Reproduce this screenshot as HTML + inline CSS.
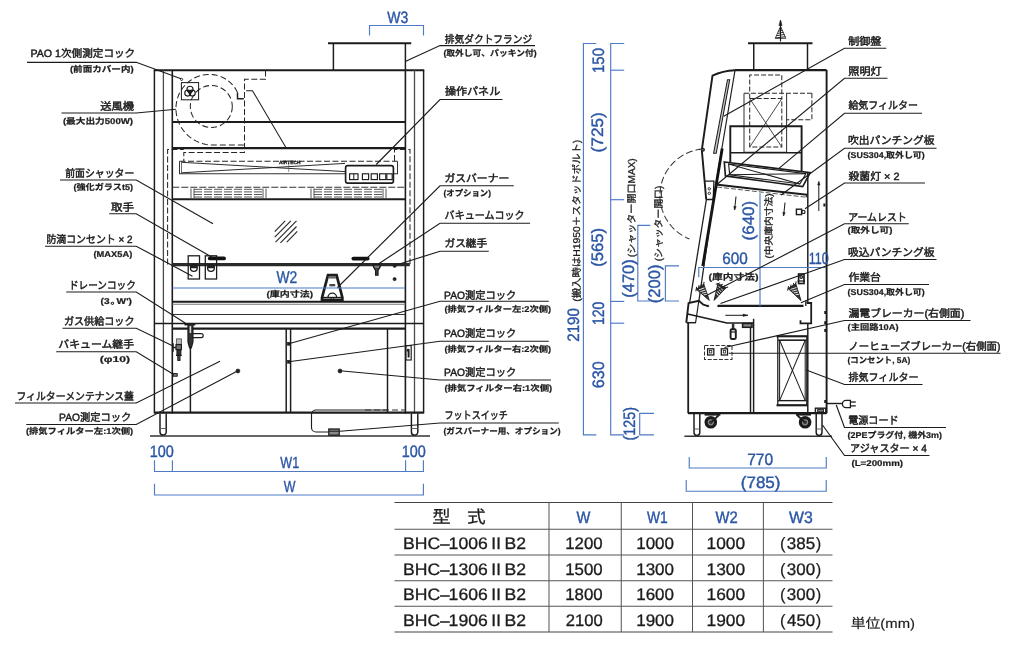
<!DOCTYPE html>
<html lang="ja"><head><meta charset="utf-8"><title>BHC-IIB2 外形図</title>
<style>
html,body{margin:0;padding:0;background:#fff;}
body{width:1024px;height:653px;overflow:hidden;font-family:"Liberation Sans","Noto Sans CJK JP",sans-serif;}
svg{display:block;will-change:opacity;}
svg text{font-family:"Liberation Sans","Noto Sans CJK JP",sans-serif;white-space:pre;text-rendering:geometricPrecision;}
</style></head><body>
<svg width="1024" height="653" viewBox="0 0 1024 653" font-family="Liberation Sans, Noto Sans CJK JP, sans-serif">
<path d="M328 43.25 L411.25 43.25" stroke="#1c1c1c" stroke-width="1.79" fill="none"/>
<path d="M333.4 43.25 L333.4 70" stroke="#1c1c1c" stroke-width="1.47" fill="none"/>
<path d="M405.4 43.25 L405.4 70" stroke="#1c1c1c" stroke-width="1.47" fill="none"/>
<path d="M153.8 70.3 L424.2 70.3" stroke="#1c1c1c" stroke-width="1.92" fill="none"/>
<path d="M154.4 70 L154.4 413.5" stroke="#1c1c1c" stroke-width="1.47" fill="none"/>
<path d="M163.4 70 L163.4 413.5" stroke="#4a4a4a" stroke-width="1.28" fill="none"/>
<path d="M172.3 70 L172.3 413.5" stroke="#1c1c1c" stroke-width="1.6" fill="none"/>
<path d="M423.6 70 L423.6 413.5" stroke="#1c1c1c" stroke-width="1.47" fill="none"/>
<path d="M414.5 70 L414.5 413.5" stroke="#4a4a4a" stroke-width="1.28" fill="none"/>
<path d="M405.4 70 L405.4 413.5" stroke="#1c1c1c" stroke-width="1.6" fill="none"/>
<path d="M172.3 122 L405.4 122" stroke="#1c1c1c" stroke-width="1.79" fill="none"/>
<path d="M172.3 148.2 L405.4 148.2" stroke="#1c1c1c" stroke-width="2.18" fill="none"/>
<path d="M172.3 187.2 L405.4 187.2" stroke="#333" stroke-width="1.02" fill="none" stroke-dasharray="7 2"/>
<path d="M172.3 199.3 L405.4 199.3" stroke="#1c1c1c" stroke-width="1.92" fill="none"/>
<path d="M172.3 264.7 L409.8 264.7" stroke="#2a2a2a" stroke-width="3.33" fill="none"/>
<path d="M172.3 301.8 L405.4 301.8" stroke="#1c1c1c" stroke-width="2.05" fill="none"/>
<path d="M172.3 304.2 L405.4 304.2" stroke="#777" stroke-width="1.15" fill="none"/>
<path d="M172.3 314.4 L405.4 314.4" stroke="#333" stroke-width="1.02" fill="none"/>
<path d="M154.4 323.4 L423.6 323.4" stroke="#1c1c1c" stroke-width="1.47" fill="none"/>
<path d="M172.3 328.6 L405.4 328.6" stroke="#1c1c1c" stroke-width="2.18" fill="none"/>
<path d="M154.4 412.6 L423.6 412.6" stroke="#1c1c1c" stroke-width="2.18" fill="none"/>
<path d="M150 436.1 L430 436.1" stroke="#333" stroke-width="1.47" fill="none"/>
<path d="M190.4 329 L190.4 412.5" stroke="#1c1c1c" stroke-width="1.47" fill="none"/>
<path d="M286.2 329 L286.2 412.5" stroke="#1c1c1c" stroke-width="1.47" fill="none"/>
<path d="M290.6 329 L290.6 412.5" stroke="#1c1c1c" stroke-width="1.47" fill="none"/>
<path d="M387.5 329 L387.5 412.5" stroke="#1c1c1c" stroke-width="1.47" fill="none"/>
<path d="M160 413.6V432 a3.1 3.1 0 0 0 6.2 0V413.6" stroke="#1c1c1c" stroke-width="1.47" fill="none"/>
<path d="M160 428.5 L166.2 428.5" stroke="#555" stroke-width="0.9" fill="none"/>
<path d="M411.4 413.6V432 a3.2 3.2 0 0 0 6.4 0V413.6" stroke="#1c1c1c" stroke-width="1.47" fill="none"/>
<path d="M411.4 428.5 L417.8 428.5" stroke="#555" stroke-width="0.9" fill="none"/>
<path d="M265.5 70.5 L265.5 79.3 L244.5 79.3 L244.5 152.6 L183.8 152.6 L183.8 161" stroke="#262626" stroke-width="1.02" fill="none" stroke-dasharray="6 2.5"/>
<path d="M167.6 264.5 L167.6 149.4 L183.8 149.4" stroke="#262626" stroke-width="1.02" fill="none" stroke-dasharray="6 2.5"/>
<path d="M394.5 161 L394.5 149.4 L410 149.4 L410 264.5" stroke="#262626" stroke-width="1.02" fill="none" stroke-dasharray="6 2.5"/>
<circle cx="211.3" cy="106.5" r="21" stroke="#262626" stroke-width="1.02" fill="none" stroke-dasharray="6 3"/>
<path d="M237.52 92.56 L236.6 90.67 L235.55 88.84 L234.36 87.08 L233.04 85.41 L231.6 83.82 L230.05 82.33 L228.38 80.95 L226.62 79.68 L224.76 78.54 L222.81 77.52 L220.79 76.64 L218.7 75.9 L216.56 75.31 L214.36 74.87 L212.14 74.59 L209.88 74.46 L207.62 74.49 L205.35 74.68 L203.08 75.04 L200.84 75.55 L198.64 76.23 L196.47 77.06 L194.36 78.05 L192.32 79.19 L190.35 80.48 L188.47 81.91 L186.69 83.47 L185.02 85.16 L183.46 86.98 L182.03 88.91 L180.73 90.95 L179.58 93.08 L178.57 95.29 L177.72 97.59 L177.03 99.94 L176.51 102.35 L176.15 104.8 L175.97 107.28 L175.97 109.78 L176.14 112.28 L176.49 114.77 L177.01 117.24 L177.72 119.68 L178.59 122.08 L179.64 124.41 L180.86 126.68 L182.23 128.86 L183.77 130.95 L185.45 132.93 L187.28 134.79 L189.24 136.53 L191.33 138.14 L193.53 139.59 L195.84 140.9 L198.25 142.04 L200.74 143.01 L203.3 143.81 L205.93 144.42 L208.6 144.86 L211.3 145.1 L244.5 145.1" stroke="#262626" stroke-width="1.02" fill="none" stroke-dasharray="6 3"/>
<path d="M237.5 92.5 L237.5 98.8 L243.8 98.8" stroke="#1c1c1c" stroke-width="1.47" fill="none"/>
<path d="M246.2 90.8 L252.5 90.8 L286.2 148" stroke="#1c1c1c" stroke-width="1.02" fill="none"/>
<rect x="181.4" y="82.6" width="17.2" height="17.2" stroke="#1c1c1c" stroke-width="1.02" fill="none"/>
<circle cx="190" cy="89.2" r="3" stroke="#1c1c1c" stroke-width="1.15" fill="none"/>
<circle cx="187.75" cy="93.1" r="3" stroke="#1c1c1c" stroke-width="1.15" fill="none"/>
<circle cx="192.25" cy="93.1" r="3" stroke="#1c1c1c" stroke-width="1.15" fill="none"/>
<circle cx="190" cy="91.8" r="1.6" stroke="#1c1c1c" stroke-width="1.02" fill="none"/>
<path d="M179.5 161.3 L397.5 161.3" stroke="#262626" stroke-width="1.02" fill="none" stroke-dasharray="6 2.5"/>
<path d="M179.5 161.3 L179.5 173.8 L397.5 173.8 L397.5 161.3" stroke="#333" stroke-width="1.02" fill="none"/>
<path d="M181.5 162.3 L345 171.6" stroke="#222" stroke-width="0.96" fill="none"/>
<path d="M181.5 172.8 L345 163.4" stroke="#222" stroke-width="0.96" fill="none"/>
<path d="M288.7 163 L288.7 172" stroke="#555" stroke-width="0.64" fill="none"/>
<path d="M181.5 161.3 L181.5 173.8" stroke="#444" stroke-width="0.77" fill="none"/>
<text x="279" y="164.3" font-size="4.6" font-weight="bold" fill="#111" stroke="#111" stroke-width="0.25" textLength="21.5" lengthAdjust="spacingAndGlyphs">AIRTECH</text>
<rect x="345.6" y="165.6" width="47.8" height="17.6" stroke="#1c1c1c" stroke-width="1.66" fill="#fff" rx="2.2"/>
<rect x="349.6" y="173.8" width="8.4" height="5.8" stroke="#1c1c1c" stroke-width="1.15" fill="none"/>
<path d="M353.8 173.8 L353.8 179.6" stroke="#1c1c1c" stroke-width="1.02" fill="none"/>
<rect x="362.4" y="173.8" width="6.2" height="5.8" stroke="#1c1c1c" stroke-width="1.15" fill="none"/>
<rect x="371.2" y="173.8" width="6.2" height="5.8" stroke="#1c1c1c" stroke-width="1.15" fill="none"/>
<rect x="379.6" y="173.8" width="6.2" height="5.8" stroke="#1c1c1c" stroke-width="1.15" fill="none"/>
<rect x="386.8" y="173.8" width="5.4" height="5.8" stroke="#1c1c1c" stroke-width="1.15" fill="none"/>
<path d="M194 189.3 L263 189.3" stroke="#444" stroke-width="0.9" fill="none" stroke-dasharray="8 2"/>
<path d="M194 191.9 L263 191.9" stroke="#444" stroke-width="0.9" fill="none" stroke-dasharray="8 2"/>
<path d="M194 194.5 L263 194.5" stroke="#444" stroke-width="0.9" fill="none" stroke-dasharray="8 2"/>
<path d="M194 197 L263 197" stroke="#444" stroke-width="0.9" fill="none" stroke-dasharray="8 2"/>
<path d="M191 188.5 L191 198" stroke="#444" stroke-width="0.9" fill="none"/>
<path d="M194 188.5 L194 198" stroke="#444" stroke-width="0.9" fill="none"/>
<path d="M266 188.5 L266 198" stroke="#444" stroke-width="0.9" fill="none"/>
<path d="M263 188.5 L263 198" stroke="#444" stroke-width="0.9" fill="none"/>
<path d="M314 189.3 L383 189.3" stroke="#444" stroke-width="0.9" fill="none" stroke-dasharray="8 2"/>
<path d="M314 191.9 L383 191.9" stroke="#444" stroke-width="0.9" fill="none" stroke-dasharray="8 2"/>
<path d="M314 194.5 L383 194.5" stroke="#444" stroke-width="0.9" fill="none" stroke-dasharray="8 2"/>
<path d="M314 197 L383 197" stroke="#444" stroke-width="0.9" fill="none" stroke-dasharray="8 2"/>
<path d="M311 188.5 L311 198" stroke="#444" stroke-width="0.9" fill="none"/>
<path d="M314 188.5 L314 198" stroke="#444" stroke-width="0.9" fill="none"/>
<path d="M386 188.5 L386 198" stroke="#444" stroke-width="0.9" fill="none"/>
<path d="M383 188.5 L383 198" stroke="#444" stroke-width="0.9" fill="none"/>
<path d="M274.72 231.58 L285.22 220.93" stroke="#2a2a2a" stroke-width="1.15" fill="none"/>
<path d="M274.76 237.22 L290.86 220.89" stroke="#2a2a2a" stroke-width="1.15" fill="none"/>
<path d="M275.5 242.15 L296.5 220.85" stroke="#2a2a2a" stroke-width="1.15" fill="none"/>
<path d="M280.44 242.82 L296.54 226.49" stroke="#2a2a2a" stroke-width="1.15" fill="none"/>
<path d="M286.78 242.07 L297.28 231.42" stroke="#2a2a2a" stroke-width="1.15" fill="none"/>
<path d="M209.8 258.4 L224 258.4" stroke="#111" stroke-width="3.84" fill="none" stroke-linecap="round"/>
<path d="M353.4 258.6 L367.6 258.6" stroke="#111" stroke-width="3.84" fill="none" stroke-linecap="round"/>
<rect x="188.2" y="255.8" width="11.3" height="23.2" stroke="#1c1c1c" stroke-width="1.28" fill="none"/>
<circle cx="193.85" cy="267.9" r="3.4" stroke="#1c1c1c" stroke-width="1.28" fill="none"/>
<path d="M190.45 267.9a3.4 3.4 0 0 1 6.8 0Z" stroke="#1c1c1c" stroke-width="0.64" fill="#222"/>
<rect x="205.3" y="255.8" width="11.3" height="23.2" stroke="#1c1c1c" stroke-width="1.28" fill="none"/>
<circle cx="210.95" cy="267.9" r="3.4" stroke="#1c1c1c" stroke-width="1.28" fill="none"/>
<path d="M207.55 267.9a3.4 3.4 0 0 1 6.8 0Z" stroke="#1c1c1c" stroke-width="0.64" fill="#222"/>
<path d="M328 275.2L336.6 275.2L342.4 297.6L342.4 300L322 300L322 297.6Z" stroke="#1c1c1c" stroke-width="2.69" fill="#fff"/>
<path d="M321.8 297.6 L342.6 297.6" stroke="#1c1c1c" stroke-width="1.54" fill="none"/>
<path d="M328.6 277.4 L336 277.4" stroke="#666" stroke-width="2.3" fill="none"/>
<path d="M329.4 285.2 L335.2 285.2" stroke="#444" stroke-width="2.3" fill="none"/>
<path d="M328 297.4a4.3 4.3 0 0 1 8.6 0" stroke="#1c1c1c" stroke-width="1.28" fill="none"/>
<circle cx="332.3" cy="298.6" r="1.2" stroke="#1c1c1c" stroke-width="0.9" fill="none"/>
<path d="M373.4 264.5L380.2 264.5L380.2 266.8L378 270.5L378 275.2L375.6 275.2L375.6 270.5L373.4 266.8Z" stroke="#1c1c1c" stroke-width="1.28" fill="#444"/>
<path d="M374.5 267 L379 267" stroke="#bbb" stroke-width="0.9" fill="none"/>
<circle cx="394.6" cy="265.9" r="1.5" stroke="#1c1c1c" stroke-width="0.64" fill="#222"/>
<circle cx="394.6" cy="279.1" r="1.6" stroke="#1c1c1c" stroke-width="0.64" fill="#222"/>
<path d="M396 265.4 L400 265" stroke="#333" stroke-width="1.54" fill="none"/>
<path d="M184.4 324.6 L195.4 324.6" stroke="#1c1c1c" stroke-width="1.66" fill="none"/>
<path d="M188 324.6V342L189.6 347.8L191.3 347.8L192.9 342V324.6" stroke="#1c1c1c" stroke-width="1.28" fill="#333"/>
<path d="M190.4 326 L190.4 333" stroke="#ddd" stroke-width="1.54" fill="none"/>
<path d="M193 333.6H201.2a2 2 0 0 1 0 4H193" stroke="#1c1c1c" stroke-width="1.15" fill="none"/>
<rect x="176.4" y="338.9" width="5" height="5.4" stroke="#555" stroke-width="0.9" fill="#bbb"/>
<path d="M173 343.2V351.8M173 347.5H176" stroke="#1c1c1c" stroke-width="1.54" fill="none"/>
<rect x="176" y="344.6" width="5.4" height="5" stroke="#1c1c1c" stroke-width="1.15" fill="#777"/>
<rect x="177" y="349.8" width="3.8" height="5.4" stroke="#1c1c1c" stroke-width="1.15" fill="#333"/>
<path d="M176 355.4 L181.6 355.4" stroke="#1c1c1c" stroke-width="1.28" fill="none"/>
<rect x="177.8" y="355.6" width="2.2" height="4.8" stroke="#1c1c1c" stroke-width="1.02" fill="#555"/>
<rect x="173" y="373.6" width="4.2" height="2.6" stroke="#1c1c1c" stroke-width="1.02" fill="#888"/>
<circle cx="237.9" cy="371" r="2" stroke="#1c1c1c" stroke-width="0.64" fill="#222"/>
<circle cx="340" cy="371" r="2" stroke="#1c1c1c" stroke-width="0.64" fill="#222"/>
<rect x="287.5" y="342.4" width="2.4" height="2.8" stroke="#1c1c1c" stroke-width="0.64" fill="#222"/>
<rect x="287.5" y="360.4" width="2.4" height="2.8" stroke="#1c1c1c" stroke-width="0.64" fill="#222"/>
<rect x="405.9" y="345.6" width="5.3" height="14.4" stroke="#1c1c1c" stroke-width="1.15" fill="none"/>
<path d="M408.6 349V357.5M407 351.2L408.6 349" stroke="#1c1c1c" stroke-width="1.92" fill="none"/>
<path d="M387 410H316a4.5 4.5 0 0 0 -4.5 4.5V427.5a4.5 4.5 0 0 0 4.5 4.5H328.7" stroke="#1c1c1c" stroke-width="1.15" fill="none"/>
<path d="M365 410 L406 410" stroke="#333" stroke-width="1.15" fill="none" stroke-dasharray="6 3"/>
<rect x="328.8" y="429" width="10.4" height="6.2" stroke="#1c1c1c" stroke-width="1.28" fill="#888"/>
<path d="M328.8 431.2 L339.2 431.2" stroke="#1c1c1c" stroke-width="1.02" fill="none"/>
<path d="M748 43.25 L812.5 43.25" stroke="#1c1c1c" stroke-width="1.79" fill="none"/>
<path d="M753.75 43.25 L753.75 70" stroke="#1c1c1c" stroke-width="1.47" fill="none"/>
<path d="M807.5 43.25 L807.5 70" stroke="#1c1c1c" stroke-width="1.47" fill="none"/>
<path d="M780.5 21 L780.5 41.5" stroke="#1c1c1c" stroke-width="1.15" fill="none"/>
<path d="M780.5 20L779 25.5H782Z" stroke="#1c1c1c" stroke-width="0.64" fill="#1c1c1c"/>
<path d="M779.1 29.1 L781.9 27.9" stroke="#1c1c1c" stroke-width="0.9" fill="none"/>
<path d="M778.2 31.3 L782.8 30.1" stroke="#1c1c1c" stroke-width="0.9" fill="none"/>
<path d="M777.3 33.5 L783.7 32.3" stroke="#1c1c1c" stroke-width="0.9" fill="none"/>
<path d="M776.4 35.7 L784.6 34.5" stroke="#1c1c1c" stroke-width="0.9" fill="none"/>
<path d="M775.5 37.9 L785.5 36.7" stroke="#1c1c1c" stroke-width="0.9" fill="none"/>
<path d="M780.5 26.5L775.2 38.4H785.8Z" stroke="#1c1c1c" stroke-width="0.77" fill="none"/>
<path d="M735 70.2 L826.6 70.2" stroke="#1c1c1c" stroke-width="2.18" fill="none"/>
<path d="M826.6 70 L826.6 413.3" stroke="#1c1c1c" stroke-width="1.92" fill="none"/>
<path d="M735 70.2Q722.5 70.8 712.5 75.6L701.8 150L704.6 181L706.2 199.5" stroke="#1c1c1c" stroke-width="1.92" fill="none"/>
<path d="M704.6 181.2 L713.9 181.2 L713.2 199.5 L706.2 199.5" stroke="#1c1c1c" stroke-width="1.28" fill="none"/>
<circle cx="709.3" cy="188.8" r="1.2" stroke="#1c1c1c" stroke-width="0.9" fill="none"/>
<circle cx="709.3" cy="193.3" r="1.2" stroke="#1c1c1c" stroke-width="0.9" fill="none"/>
<path d="M735 70.4 L715.8 184.5" stroke="#1c1c1c" stroke-width="1.15" fill="none"/>
<path d="M722.2 148.5 L702.8 266" stroke="#111" stroke-width="2.82" fill="none"/>
<path d="M727.5 79.7 L729.7 79.7 L716.2 153.3 L713.6 153.3Z" stroke="#1c1c1c" stroke-width="1.02" fill="#c8c8c8"/>
<circle cx="702.9" cy="149.7" r="1.4" stroke="#1c1c1c" stroke-width="1.28" fill="#999"/>
<path d="M706.4 199.5 L689.6 303" stroke="#1c1c1c" stroke-width="1.28" fill="none"/>
<path d="M713.4 199.5 L698.9 301" stroke="#1c1c1c" stroke-width="1.28" fill="none"/>
<path d="M702.4 148.99 L699.3 149.37 L696.23 149.96 L693.21 150.76 L690.25 151.75 L687.37 152.94 L684.57 154.32 L681.86 155.89 L679.27 157.63 L676.8 159.54 L674.47 161.61 L672.27 163.84 L670.24 166.2 L668.36 168.7 L666.65 171.31 L665.13 174.03 L663.78 176.85 L662.63 179.76 L661.68 182.73 L660.93 185.76 L660.38 188.83 L660.04 191.94 L659.9 195.06 L659.98 198.18 L660.26 201.29 L660.75 204.37 L661.45 207.42 L662.34 210.41 L663.44 213.33 L664.73 216.18 L666.2 218.93 L667.86 221.57 L669.69 224.11 L671.68 226.51 L673.83 228.77 L676.13 230.89 L678.56 232.85 L681.12 234.64 L683.79 236.25 L686.56 237.68 L689.43 238.93" stroke="#333" stroke-width="1.02" fill="none" stroke-dasharray="7 3"/>
<path d="M749.7 98.6 L749.7 75 L781.8 75 L781.8 98.6" stroke="#2a2a2a" stroke-width="1.02" fill="none" stroke-dasharray="5 2"/>
<rect x="749.7" y="98.6" width="32.1" height="48.4" stroke="#2a2a2a" stroke-width="1.02" fill="none" stroke-dasharray="5 2"/>
<path d="M749.7 98.6 L781.8 147" stroke="#333" stroke-width="0.9" fill="none"/>
<path d="M781.8 98.6 L749.7 147" stroke="#333" stroke-width="0.9" fill="none"/>
<path d="M744 93.3 L811.9 93.3" stroke="#2a2a2a" stroke-width="1.02" fill="none" stroke-dasharray="5 2"/>
<path d="M744 93.3 L744 152.3 L786.6 152.3 L786.6 93.3" stroke="#333" stroke-width="1.02" fill="none"/>
<path d="M811.9 93.3 L811.9 119.7 L786.6 119.7" stroke="#2a2a2a" stroke-width="1.02" fill="none" stroke-dasharray="5 2"/>
<path d="M730.3 162 L730.3 126.2 L801.6 126.2 L801.6 171.6" stroke="#1c1c1c" stroke-width="1.92" fill="none"/>
<path d="M730.3 152.7 L801.6 152.7" stroke="#1c1c1c" stroke-width="1.47" fill="none"/>
<path d="M724.3 162 L810.2 172.7 L802.7 186.6 L725.4 175.9Z" stroke="#1c1c1c" stroke-width="1.66" fill="none"/>
<path d="M728.6 164 L805.9 173.7 L799.9 184 L729.7 174.8Z" stroke="#1c1c1c" stroke-width="1.15" fill="none"/>
<path d="M728.6 164 L799.9 184" stroke="#1c1c1c" stroke-width="1.02" fill="none"/>
<path d="M729.7 174.8 L805.9 173.7" stroke="#1c1c1c" stroke-width="1.02" fill="none"/>
<path d="M715.8 184.5 L807.2 194.8" stroke="#1c1c1c" stroke-width="1.92" fill="none"/>
<path d="M717 187 L806 197.2" stroke="#444" stroke-width="0.9" fill="none" stroke-dasharray="5 2"/>
<path d="M806 197.2 L807.2 194.8" stroke="#1c1c1c" stroke-width="1.02" fill="none"/>
<path d="M807.8 172.7 L807.8 303" stroke="#1c1c1c" stroke-width="1.47" fill="none"/>
<path d="M807.8 323.4 L807.8 413.3" stroke="#1c1c1c" stroke-width="1.47" fill="none"/>
<path d="M736 196.5 L734.6 210" stroke="#1c1c1c" stroke-width="1.02" fill="none"/>
<path d="M734.6 210L733.68 206.29L736.26 206.55Z" stroke="#1c1c1c" stroke-width="0.38" fill="#1c1c1c"/>
<path d="M785 202.5 L783.6 216" stroke="#1c1c1c" stroke-width="1.02" fill="none"/>
<path d="M783.6 216L782.68 212.29L785.26 212.55Z" stroke="#1c1c1c" stroke-width="0.38" fill="#1c1c1c"/>
<path d="M818.8 211 L818.8 181.5" stroke="#1c1c1c" stroke-width="1.02" fill="none"/>
<path d="M818.8 181.5L820.1 185.1L817.5 185.1Z" stroke="#1c1c1c" stroke-width="0.38" fill="#1c1c1c"/>
<path d="M725.3 315.3 L748 315.3" stroke="#1c1c1c" stroke-width="1.02" fill="none"/>
<path d="M748 315.3L743 316.6L743 314Z" stroke="#1c1c1c" stroke-width="0.38" fill="#1c1c1c"/>
<rect x="796.4" y="209.2" width="5.2" height="5.4" stroke="#1c1c1c" stroke-width="1.41" fill="none"/>
<circle cx="803.4" cy="211.9" r="1.6" stroke="#1c1c1c" stroke-width="1.15" fill="none"/>
<path d="M824.4 203.5 L824.4 206.5" stroke="#1c1c1c" stroke-width="2.05" fill="none"/>
<path d="M718.3 305.9 L803.5 305.9" stroke="#1c1c1c" stroke-width="2.3" fill="none"/>
<circle cx="708" cy="306" r="0.9" stroke="#1c1c1c" stroke-width="0.51" fill="#1c1c1c"/>
<circle cx="718.4" cy="306" r="0.9" stroke="#1c1c1c" stroke-width="0.51" fill="#1c1c1c"/>
<path d="M686.3 322.7 L688.6 303 L698.8 300.8 L703.4 304.7 L708 306.2" stroke="#1c1c1c" stroke-width="1.92" fill="none"/>
<path d="M698.8 300.8 L695.6 322.7" stroke="#1c1c1c" stroke-width="1.15" fill="none"/>
<path d="M687.6 314 L726.9 323 L753.4 323" stroke="#1c1c1c" stroke-width="1.66" fill="none"/>
<path d="M686.3 322.7 L696 322.7" stroke="#1c1c1c" stroke-width="1.47" fill="none"/>
<path d="M806.6 303 L811.2 303 L811.2 323.4 L800.5 323.4 L800.5 320.3" stroke="#1c1c1c" stroke-width="1.79" fill="none"/>
<path d="M805.8 300.8 L805.8 305.9" stroke="#1c1c1c" stroke-width="1.28" fill="none"/>
<path d="M688.2 322.5 L688.2 413.3" stroke="#1c1c1c" stroke-width="1.79" fill="none"/>
<path d="M688 413.1 L826.6 413.1" stroke="#1c1c1c" stroke-width="2.18" fill="none"/>
<path d="M750.5 327.5 L750.5 412.5" stroke="#1c1c1c" stroke-width="1.47" fill="none"/>
<path d="M753.6 318.8 L753.6 412.5" stroke="#1c1c1c" stroke-width="1.47" fill="none"/>
<rect x="742.6" y="323.5" width="9.4" height="3.8" stroke="#1c1c1c" stroke-width="1.54" fill="#888"/>
<path d="M733.1 323.5 L733.1 329.5" stroke="#333" stroke-width="2.56" fill="none"/>
<rect x="730.6" y="329.2" width="5.2" height="9.8" stroke="#1c1c1c" stroke-width="1.92" fill="#fff" rx="1.2"/>
<path d="M730.6 332 L735.8 332" stroke="#1c1c1c" stroke-width="1.15" fill="none"/>
<rect x="704.5" y="345.6" width="27.5" height="13.8" stroke="#333" stroke-width="1.02" fill="none" stroke-dasharray="4 1.6"/>
<rect x="707.6" y="348.8" width="6.2" height="6.2" stroke="#1c1c1c" stroke-width="1.28" fill="none"/>
<rect x="721.3" y="348.8" width="6.2" height="6.2" stroke="#1c1c1c" stroke-width="1.28" fill="none"/>
<rect x="709.6" y="350.6" width="2.2" height="2.4" stroke="#1c1c1c" stroke-width="0.77" fill="none"/>
<rect x="723.3" y="350.6" width="2.2" height="2.4" stroke="#1c1c1c" stroke-width="0.77" fill="none"/>
<rect x="777.8" y="336.3" width="29" height="68.9" stroke="#1c1c1c" stroke-width="1.28" fill="none"/>
<path d="M777.8 340.2 L806.8 340.2" stroke="#1c1c1c" stroke-width="1.28" fill="none"/>
<path d="M777.8 400.6 L806.8 400.6" stroke="#1c1c1c" stroke-width="1.28" fill="none"/>
<path d="M776.5 336.3 L808 336.3" stroke="#1c1c1c" stroke-width="2.05" fill="none"/>
<path d="M776.5 405.3 L808 405.3" stroke="#1c1c1c" stroke-width="2.05" fill="none"/>
<rect x="779.6" y="340.2" width="25.6" height="60.4" stroke="#1c1c1c" stroke-width="1.02" fill="none"/>
<path d="M779.6 340.2 L805.2 400.6" stroke="#1c1c1c" stroke-width="1.02" fill="none"/>
<path d="M805.2 340.2 L779.6 400.6" stroke="#1c1c1c" stroke-width="1.02" fill="none"/>
<path d="M825.4 311 L825.4 314" stroke="#1c1c1c" stroke-width="2.3" fill="none"/>
<path d="M825.4 321.2 L825.4 324.2" stroke="#1c1c1c" stroke-width="2.3" fill="none"/>
<path d="M825.4 329 L825.4 332" stroke="#1c1c1c" stroke-width="2.3" fill="none"/>
<path d="M825.4 400 L825.4 403" stroke="#1c1c1c" stroke-width="2.3" fill="none"/>
<path d="M704.6 414.6 L720.4 414.6" stroke="#1c1c1c" stroke-width="2.05" fill="none"/>
<circle cx="710.8" cy="422.3" r="4.7" stroke="#1a1a1a" stroke-width="3.2" fill="#8a8a8a"/>
<circle cx="710.8" cy="422.3" r="1.5" stroke="#333" stroke-width="0.77" fill="#333"/>
<path d="M719 415 L711.6 421.8" stroke="#1c1c1c" stroke-width="1.79" fill="none"/>
<path d="M796 414.6 L811 414.6" stroke="#1c1c1c" stroke-width="2.05" fill="none"/>
<circle cx="805.1" cy="422.3" r="4.7" stroke="#1a1a1a" stroke-width="3.2" fill="#8a8a8a"/>
<circle cx="805.1" cy="422.3" r="1.5" stroke="#333" stroke-width="0.77" fill="#333"/>
<path d="M797 415 L804.3 421.8" stroke="#1c1c1c" stroke-width="1.79" fill="none"/>
<path d="M694 413.3V432.5 a2.9 2.9 0 0 0 5.8 0V413.3" stroke="#1c1c1c" stroke-width="1.47" fill="none"/>
<path d="M694 429 L699.8 429" stroke="#555" stroke-width="0.9" fill="none"/>
<path d="M816.2 413.3V432.5 a2.9 2.9 0 0 0 5.8 0V413.3" stroke="#1c1c1c" stroke-width="1.47" fill="none"/>
<path d="M816.2 429 L822 429" stroke="#555" stroke-width="0.9" fill="none"/>
<path d="M684.4 436.2 L832 436.2" stroke="#333" stroke-width="1.47" fill="none"/>
<rect x="815.4" y="408.2" width="10.4" height="4.9" stroke="#1c1c1c" stroke-width="1.41" fill="none"/>
<rect x="817.6" y="409.6" width="6" height="2.2" stroke="#1c1c1c" stroke-width="0.9" fill="#888"/>
<path d="M826.6 403.5 L842.6 403.5" stroke="#1c1c1c" stroke-width="1.41" fill="none"/>
<path d="M850.4 400.4H846a3.6 3.6 0 0 0 0 7.2H850.4Z" stroke="#1c1c1c" stroke-width="1.28" fill="none"/>
<path d="M850.4 402 L855.8 402" stroke="#1c1c1c" stroke-width="1.28" fill="none"/>
<path d="M850.4 405.9 L855.8 405.9" stroke="#1c1c1c" stroke-width="1.28" fill="none"/>
<path d="M709.3 300.4 L696.34 289.24 L703.8 284.2Z" stroke="#1a1a1a" stroke-width="0.9" fill="#333" stroke-linejoin="round"/>
<path d="M703.72 294.84 L707.13 294.47" stroke="#e8e8e8" stroke-width="0.96" fill="none"/>
<path d="M702.01 293.2 L706.25 292.28" stroke="#e8e8e8" stroke-width="0.96" fill="none"/>
<path d="M700.3 291.57 L705.38 290.08" stroke="#e8e8e8" stroke-width="0.96" fill="none"/>
<path d="M698.6 289.94 L704.5 287.88" stroke="#e8e8e8" stroke-width="0.96" fill="none"/>
<path d="M695.85 291.38 L696.66 286.85" stroke="#222" stroke-width="1.02" fill="none"/>
<path d="M698.32 289.71 L699.12 285.19" stroke="#222" stroke-width="1.02" fill="none"/>
<path d="M700.85 288 L701.66 283.48" stroke="#222" stroke-width="1.02" fill="none"/>
<path d="M703.32 286.34 L704.12 281.82" stroke="#222" stroke-width="1.02" fill="none"/>
<path d="M714.1 300.4 L717.87 283.72 L725.82 287.94Z" stroke="#1a1a1a" stroke-width="0.9" fill="#333" stroke-linejoin="round"/>
<path d="M716.39 292.86 L718.31 295.7" stroke="#e8e8e8" stroke-width="0.96" fill="none"/>
<path d="M717.03 290.59 L719.84 293.89" stroke="#e8e8e8" stroke-width="0.96" fill="none"/>
<path d="M717.67 288.31 L721.37 292.09" stroke="#e8e8e8" stroke-width="0.96" fill="none"/>
<path d="M718.31 286.04 L722.9 290.29" stroke="#e8e8e8" stroke-width="0.96" fill="none"/>
<path d="M715.76 284.29 L720.13 282.88" stroke="#222" stroke-width="1.02" fill="none"/>
<path d="M718.38 285.69 L722.75 284.27" stroke="#222" stroke-width="1.02" fill="none"/>
<path d="M721.08 287.12 L725.45 285.71" stroke="#222" stroke-width="1.02" fill="none"/>
<path d="M723.7 288.52 L728.08 287.11" stroke="#222" stroke-width="1.02" fill="none"/>
<path d="M801 300.6 L788.18 288.57 L795.81 283.8Z" stroke="#1a1a1a" stroke-width="0.9" fill="#333" stroke-linejoin="round"/>
<path d="M795.51 294.67 L798.92 294.42" stroke="#e8e8e8" stroke-width="0.96" fill="none"/>
<path d="M793.82 292.92 L798.09 292.14" stroke="#e8e8e8" stroke-width="0.96" fill="none"/>
<path d="M792.13 291.17 L797.25 289.85" stroke="#e8e8e8" stroke-width="0.96" fill="none"/>
<path d="M790.44 289.41 L796.42 287.57" stroke="#e8e8e8" stroke-width="0.96" fill="none"/>
<path d="M787.61 290.69 L788.58 286.19" stroke="#222" stroke-width="1.02" fill="none"/>
<path d="M790.13 289.11 L791.1 284.62" stroke="#222" stroke-width="1.02" fill="none"/>
<path d="M792.73 287.49 L793.69 283" stroke="#222" stroke-width="1.02" fill="none"/>
<path d="M795.25 285.92 L796.21 281.42" stroke="#222" stroke-width="1.02" fill="none"/>
<rect x="798.6" y="274" width="5.4" height="9.5" stroke="#1c1c1c" stroke-width="1.66" fill="none"/>
<circle cx="801.2" cy="277" r="1.3" stroke="#1c1c1c" stroke-width="1.28" fill="none"/>
<path d="M797.5 281 L805 281" stroke="#1c1c1c" stroke-width="1.28" fill="none"/>
<path d="M369.5 35.5 L369.5 25.5 L423.5 25.5 L423.5 35.5" stroke="#4f7ac6" stroke-width="1.15" fill="none"/>
<g transform="translate(387.24 23.40) scale(0.8475 1)" fill="#2b56a5" stroke="#2b56a5" stroke-width="0.40" aria-label="W3"><text x="0.00" font-size="16.50">W3</text></g>
<path d="M172.5 288 L405 288" stroke="#4f7ac6" stroke-width="1.15" fill="none"/>
<g transform="translate(276.44 282.60) scale(0.8140 1)" fill="#2b56a5" stroke="#2b56a5" stroke-width="0.40" aria-label="W2"><text x="0.00" font-size="17.00">W2</text></g>
<g transform="translate(266.40 296.80) scale(1.1121 1)" fill="#1c1c1c" font-weight="bold" stroke="#1c1c1c" stroke-width="0.20" aria-label="(庫内寸法)"><text x="0" font-size="8.4" textLength="42" lengthAdjust="spacingAndGlyphs">(庫内寸法)</text></g>
<g transform="translate(149.70 456.80) scale(0.8740 1)" fill="#2b56a5" stroke="#2b56a5" stroke-width="0.40" aria-label="100"><text x="0.00" font-size="16.50">100</text></g>
<g transform="translate(401.70 456.80) scale(0.8740 1)" fill="#2b56a5" stroke="#2b56a5" stroke-width="0.40" aria-label="100"><text x="0.00" font-size="16.50">100</text></g>
<path d="M154.5 460.3 L154.5 471.5 L423.4 471.5 L423.4 460.3" stroke="#4f7ac6" stroke-width="1.15" fill="none"/>
<path d="M172.4 460.3 L172.4 471.5" stroke="#4f7ac6" stroke-width="1.15" fill="none"/>
<path d="M405.6 460.3 L405.6 471.5" stroke="#4f7ac6" stroke-width="1.15" fill="none"/>
<g transform="translate(280.34 468.40) scale(0.7862 1)" fill="#2b56a5" stroke="#2b56a5" stroke-width="0.40" aria-label="W1"><text x="0.00" font-size="16.00">W1</text></g>
<path d="M154.5 483.8 L154.5 495 L423.4 495 L423.4 483.8" stroke="#4f7ac6" stroke-width="1.15" fill="none"/>
<g transform="translate(283.65 491.70) scale(0.7745 1)" fill="#2b56a5" stroke="#2b56a5" stroke-width="0.40" aria-label="W"><text x="0.00" font-size="16.00">W</text></g>
<path d="M596.3 43.5 L583.4 43.5 L583.4 434.8 L596.3 434.8" stroke="#4f7ac6" stroke-width="1.15" fill="none"/>
<path d="M624.2 43.5 L610.7 43.5 L610.7 434.8 L624.2 434.8" stroke="#4f7ac6" stroke-width="1.15" fill="none"/>
<path d="M610.7 70.2 L624.2 70.2" stroke="#4f7ac6" stroke-width="1.15" fill="none"/>
<path d="M610.7 199.7 L624.2 199.7" stroke="#4f7ac6" stroke-width="1.15" fill="none"/>
<path d="M610.7 301.4 L624.2 301.4" stroke="#4f7ac6" stroke-width="1.15" fill="none"/>
<path d="M610.7 323.2 L624.2 323.2" stroke="#4f7ac6" stroke-width="1.15" fill="none"/>
<g transform="translate(603.90 71.80) rotate(-90) translate(-1.14 0.00) scale(0.9053 1)" fill="#2b56a5" stroke="#2b56a5" stroke-width="0.40" aria-label="150"><text x="0.00" font-size="16.50">150</text></g>
<g transform="translate(603.20 150.60) rotate(-90) translate(-1.78 0.00) scale(0.9120 1)" fill="#2b56a5" stroke="#2b56a5" stroke-width="0.40" aria-label="(725)"><text x="0" font-size="16.5" textLength="44.03" lengthAdjust="spacingAndGlyphs">(725)</text></g>
<g transform="translate(603.20 265.00) rotate(-90) translate(-1.71 0.00) scale(0.8771 1)" fill="#2b56a5" stroke="#2b56a5" stroke-width="0.40" aria-label="(565)"><text x="0" font-size="16.5" textLength="44.03" lengthAdjust="spacingAndGlyphs">(565)</text></g>
<g transform="translate(603.90 324.00) rotate(-90) translate(-1.07 0.00) scale(0.8506 1)" fill="#2b56a5" stroke="#2b56a5" stroke-width="0.40" aria-label="120"><text x="0.00" font-size="16.50">120</text></g>
<g transform="translate(603.90 387.50) rotate(-90) translate(-0.82 0.00) scale(0.9790 1)" fill="#2b56a5" stroke="#2b56a5" stroke-width="0.40" aria-label="630"><text x="0.00" font-size="16.50">630</text></g>
<g transform="translate(579.20 341.00) rotate(-90) translate(-0.76 0.00) scale(0.9168 1)" fill="#2b56a5" stroke="#2b56a5" stroke-width="0.40" aria-label="2190"><text x="0.00" font-size="16.50">2190</text></g>
<g transform="translate(579.80 300.50) rotate(-90) translate(-1.25 0.00) scale(1.0836 1)" fill="#1c1c1c" stroke="#1c1c1c" stroke-width="0.30" aria-label="(搬入時はH1950＋スタッドボルト)"><text x="0" font-size="9.8" textLength="149.52" lengthAdjust="spacingAndGlyphs">(搬入時はH1950＋スタッドボルト)</text></g>
<path d="M650.3 225.4 L637.8 225.4 L637.8 301 L650.3 301" stroke="#4f7ac6" stroke-width="1.15" fill="none"/>
<g transform="translate(634.00 296.00) rotate(-90) translate(-1.70 0.00) scale(0.8722 1)" fill="#2b56a5" stroke="#2b56a5" stroke-width="0.40" aria-label="(470)"><text x="0" font-size="16.5" textLength="44.03" lengthAdjust="spacingAndGlyphs">(470)</text></g>
<g transform="translate(634.80 256.00) rotate(-90) translate(-1.21 0.00) scale(1.0474 1)" fill="#1c1c1c" stroke="#1c1c1c" stroke-width="0.30" aria-label="(シャッター開口MAX)"><text x="0" font-size="9.8" textLength="94.44" lengthAdjust="spacingAndGlyphs">(シャッター開口MAX)</text></g>
<path d="M679 265.8 L665.4 265.8 L665.4 301 L679 301" stroke="#4f7ac6" stroke-width="1.15" fill="none"/>
<g transform="translate(660.00 301.50) rotate(-90) translate(-1.71 0.00) scale(0.8771 1)" fill="#2b56a5" stroke="#2b56a5" stroke-width="0.40" aria-label="(200)"><text x="0" font-size="16.5" textLength="44.03" lengthAdjust="spacingAndGlyphs">(200)</text></g>
<g transform="translate(662.20 260.00) rotate(-90) translate(-1.19 0.00) scale(1.0297 1)" fill="#1c1c1c" stroke="#1c1c1c" stroke-width="0.30" aria-label="(シャッター開口)"><text x="0" font-size="9.8" textLength="73.21" lengthAdjust="spacingAndGlyphs">(シャッター開口)</text></g>
<path d="M654 413.3 L639.7 413.3 L639.7 434.8 L654 434.8" stroke="#4f7ac6" stroke-width="1.15" fill="none"/>
<g transform="translate(634.50 439.00) rotate(-90) translate(-1.48 0.00) scale(0.7600 1)" fill="#2b56a5" stroke="#2b56a5" stroke-width="0.40" aria-label="(125)"><text x="0" font-size="16.5" textLength="44.03" lengthAdjust="spacingAndGlyphs">(125)</text></g>
<path d="M760 193.25 L760 306.3" stroke="#4f7ac6" stroke-width="1.15" fill="none"/>
<path d="M698.75 277.3 L698.75 267.5 L826 267.5" stroke="#4f7ac6" stroke-width="1.15" fill="none"/>
<g transform="translate(722.22 264.20) scale(0.9291 1)" fill="#2b56a5" stroke="#2b56a5" stroke-width="0.40" aria-label="600"><text x="0.00" font-size="16.50">600</text></g>
<g transform="translate(808.74 264.20) scale(0.7609 1)" fill="#2b56a5" stroke="#2b56a5" stroke-width="0.40" aria-label="110"><text x="0.00" font-size="16.50">110</text></g>
<g transform="translate(708.52 279.90) scale(1.1355 1)" fill="#1c1c1c" font-weight="bold" stroke="#1c1c1c" stroke-width="0.20" aria-label="(庫内寸法)"><text x="0" font-size="8.8" textLength="44" lengthAdjust="spacingAndGlyphs">(庫内寸法)</text></g>
<g transform="translate(754.30 238.75) rotate(-90) translate(-1.76 0.00) scale(0.9033 1)" fill="#2b56a5" stroke="#2b56a5" stroke-width="0.40" aria-label="(640)"><text x="0" font-size="16.5" textLength="44.03" lengthAdjust="spacingAndGlyphs">(640)</text></g>
<g transform="translate(771.60 257.50) rotate(-90) translate(-1.10 0.00) scale(0.9909 1)" fill="#1c1c1c" stroke="#1c1c1c" stroke-width="0.30" aria-label="(中央庫内寸法)"><text x="0" font-size="9.4" textLength="65.8" lengthAdjust="spacingAndGlyphs">(中央庫内寸法)</text></g>
<path d="M689.25 457 L689.25 468 L826.25 468 L826.25 457" stroke="#4f7ac6" stroke-width="1.15" fill="none"/>
<g transform="translate(747.20 464.50) scale(0.9409 1)" fill="#2b56a5" stroke="#2b56a5" stroke-width="0.40" aria-label="770"><text x="0.00" font-size="16.50">770</text></g>
<path d="M686.25 480 L686.25 491.25 L826.25 491.25 L826.25 480" stroke="#4f7ac6" stroke-width="1.15" fill="none"/>
<g transform="translate(740.74 488.20) scale(0.9033 1)" fill="#2b56a5" stroke="#2b56a5" stroke-width="0.40" aria-label="(785)"><text x="0" font-size="16.5" textLength="44.03" lengthAdjust="spacingAndGlyphs">(785)</text></g>
<path d="M394.5 502.5 L832.5 502.5" stroke="#444" stroke-width="1.22" fill="none"/>
<path d="M394.5 529.25 L832.5 529.25" stroke="#555" stroke-width="1.02" fill="none"/>
<path d="M394.5 555 L832.5 555" stroke="#555" stroke-width="1.02" fill="none"/>
<path d="M394.5 580.75 L832.5 580.75" stroke="#555" stroke-width="1.02" fill="none"/>
<path d="M394.5 606.25 L832.5 606.25" stroke="#555" stroke-width="1.02" fill="none"/>
<path d="M394.5 632 L832.5 632" stroke="#444" stroke-width="1.22" fill="none"/>
<path d="M549 502.5 L549 632" stroke="#555" stroke-width="1.02" fill="none"/>
<path d="M621.25 502.5 L621.25 632" stroke="#555" stroke-width="1.02" fill="none"/>
<path d="M692.5 502.5 L692.5 632" stroke="#555" stroke-width="1.02" fill="none"/>
<path d="M763.4 502.5 L763.4 632" stroke="#555" stroke-width="1.02" fill="none"/>
<g transform="translate(432.27 523.40) scale(1.0540 1)" fill="#1c1c1c" stroke="#1c1c1c" stroke-width="0.20" aria-label="型"><text x="0" font-size="17.5">型</text></g>
<g transform="translate(466.93 523.40) scale(1.0695 1)" fill="#1c1c1c" stroke="#1c1c1c" stroke-width="0.20" aria-label="式"><text x="0" font-size="17.5">式</text></g>
<g transform="translate(576.44 522.50) scale(0.8849 1)" fill="#2b56a5" stroke="#2b56a5" stroke-width="0.40" aria-label="W"><text x="0.00" font-size="16.60">W</text></g>
<g transform="translate(646.94 522.50) scale(0.8328 1)" fill="#2b56a5" stroke="#2b56a5" stroke-width="0.40" aria-label="W1"><text x="0.00" font-size="16.60">W1</text></g>
<g transform="translate(715.53 522.50) scale(0.8920 1)" fill="#2b56a5" stroke="#2b56a5" stroke-width="0.40" aria-label="W2"><text x="0.00" font-size="16.60">W2</text></g>
<g transform="translate(788.93 522.50) scale(0.9545 1)" fill="#2b56a5" stroke="#2b56a5" stroke-width="0.40" aria-label="W3"><text x="0.00" font-size="16.60">W3</text></g>
<g transform="translate(403.05 548.90) scale(1.0616 1)" fill="#1c1c1c" stroke="#1c1c1c" stroke-width="0.32" aria-label="BHC–1006ⅡB2"><text font-size="16.60"><tspan x="0">BHC</tspan><tspan x="35.05" font-size="15.77">–</tspan><tspan x="42.93">1006</tspan><tspan x="79.86" font-size="15.77">Ⅱ</tspan><tspan x="95.63">B2</tspan></text></g>
<g transform="translate(565.22 548.90) scale(1.0138 1)" fill="#1c1c1c" stroke="#1c1c1c" stroke-width="0.32" aria-label="1200"><text x="0.00" font-size="16.60">1200</text></g>
<g transform="translate(636.20 548.90) scale(1.0253 1)" fill="#1c1c1c" stroke="#1c1c1c" stroke-width="0.32" aria-label="1000"><text x="0.00" font-size="16.60">1000</text></g>
<g transform="translate(706.48 548.90) scale(1.0452 1)" fill="#1c1c1c" stroke="#1c1c1c" stroke-width="0.32" aria-label="1000"><text x="0.00" font-size="16.60">1000</text></g>
<g transform="translate(778.54 548.90)" fill="#1c1c1c" stroke="#1c1c1c" stroke-width="0.15" aria-label="("><text x="1.4" font-size="16.6">(</text></g>
<g transform="translate(786.85 548.90) scale(1.0240 1)" fill="#1c1c1c" stroke="#1c1c1c" stroke-width="0.32" aria-label="385"><text x="0.00" font-size="16.60">385</text></g>
<g transform="translate(815.16 548.90)" fill="#1c1c1c" stroke="#1c1c1c" stroke-width="0.15" aria-label=")"><text x="0.6" font-size="16.6">)</text></g>
<g transform="translate(403.05 574.60) scale(1.0616 1)" fill="#1c1c1c" stroke="#1c1c1c" stroke-width="0.32" aria-label="BHC–1306ⅡB2"><text font-size="16.60"><tspan x="0">BHC</tspan><tspan x="35.05" font-size="15.77">–</tspan><tspan x="42.93">1306</tspan><tspan x="79.86" font-size="15.77">Ⅱ</tspan><tspan x="95.63">B2</tspan></text></g>
<g transform="translate(565.22 574.60) scale(1.0138 1)" fill="#1c1c1c" stroke="#1c1c1c" stroke-width="0.32" aria-label="1500"><text x="0.00" font-size="16.60">1500</text></g>
<g transform="translate(636.20 574.60) scale(1.0253 1)" fill="#1c1c1c" stroke="#1c1c1c" stroke-width="0.32" aria-label="1300"><text x="0.00" font-size="16.60">1300</text></g>
<g transform="translate(706.48 574.60) scale(1.0452 1)" fill="#1c1c1c" stroke="#1c1c1c" stroke-width="0.32" aria-label="1300"><text x="0.00" font-size="16.60">1300</text></g>
<g transform="translate(778.54 574.60)" fill="#1c1c1c" stroke="#1c1c1c" stroke-width="0.15" aria-label="("><text x="1.4" font-size="16.6">(</text></g>
<g transform="translate(786.85 574.60) scale(1.0221 1)" fill="#1c1c1c" stroke="#1c1c1c" stroke-width="0.32" aria-label="300"><text x="0.00" font-size="16.60">300</text></g>
<g transform="translate(815.16 574.60)" fill="#1c1c1c" stroke="#1c1c1c" stroke-width="0.15" aria-label=")"><text x="0.6" font-size="16.6">)</text></g>
<g transform="translate(403.05 600.30) scale(1.0616 1)" fill="#1c1c1c" stroke="#1c1c1c" stroke-width="0.32" aria-label="BHC–1606ⅡB2"><text font-size="16.60"><tspan x="0">BHC</tspan><tspan x="35.05" font-size="15.77">–</tspan><tspan x="42.93">1606</tspan><tspan x="79.86" font-size="15.77">Ⅱ</tspan><tspan x="95.63">B2</tspan></text></g>
<g transform="translate(565.22 600.30) scale(1.0138 1)" fill="#1c1c1c" stroke="#1c1c1c" stroke-width="0.32" aria-label="1800"><text x="0.00" font-size="16.60">1800</text></g>
<g transform="translate(636.20 600.30) scale(1.0253 1)" fill="#1c1c1c" stroke="#1c1c1c" stroke-width="0.32" aria-label="1600"><text x="0.00" font-size="16.60">1600</text></g>
<g transform="translate(706.48 600.30) scale(1.0452 1)" fill="#1c1c1c" stroke="#1c1c1c" stroke-width="0.32" aria-label="1600"><text x="0.00" font-size="16.60">1600</text></g>
<g transform="translate(778.54 600.30)" fill="#1c1c1c" stroke="#1c1c1c" stroke-width="0.15" aria-label="("><text x="1.4" font-size="16.6">(</text></g>
<g transform="translate(786.85 600.30) scale(1.0221 1)" fill="#1c1c1c" stroke="#1c1c1c" stroke-width="0.32" aria-label="300"><text x="0.00" font-size="16.60">300</text></g>
<g transform="translate(815.16 600.30)" fill="#1c1c1c" stroke="#1c1c1c" stroke-width="0.15" aria-label=")"><text x="0.6" font-size="16.6">)</text></g>
<g transform="translate(403.05 626.00) scale(1.0616 1)" fill="#1c1c1c" stroke="#1c1c1c" stroke-width="0.32" aria-label="BHC–1906ⅡB2"><text font-size="16.60"><tspan x="0">BHC</tspan><tspan x="35.05" font-size="15.77">–</tspan><tspan x="42.93">1906</tspan><tspan x="79.86" font-size="15.77">Ⅱ</tspan><tspan x="95.63">B2</tspan></text></g>
<g transform="translate(565.66 626.00) scale(1.0015 1)" fill="#1c1c1c" stroke="#1c1c1c" stroke-width="0.32" aria-label="2100"><text x="0.00" font-size="16.60">2100</text></g>
<g transform="translate(636.20 626.00) scale(1.0253 1)" fill="#1c1c1c" stroke="#1c1c1c" stroke-width="0.32" aria-label="1900"><text x="0.00" font-size="16.60">1900</text></g>
<g transform="translate(706.48 626.00) scale(1.0452 1)" fill="#1c1c1c" stroke="#1c1c1c" stroke-width="0.32" aria-label="1900"><text x="0.00" font-size="16.60">1900</text></g>
<g transform="translate(778.54 626.00)" fill="#1c1c1c" stroke="#1c1c1c" stroke-width="0.15" aria-label="("><text x="1.4" font-size="16.6">(</text></g>
<g transform="translate(787.11 626.00) scale(1.0125 1)" fill="#1c1c1c" stroke="#1c1c1c" stroke-width="0.32" aria-label="450"><text x="0.00" font-size="16.60">450</text></g>
<g transform="translate(815.16 626.00)" fill="#1c1c1c" stroke="#1c1c1c" stroke-width="0.15" aria-label=")"><text x="0.6" font-size="16.6">)</text></g>
<g transform="translate(850.66 628.20) scale(1.0296 1)" fill="#1c1c1c" stroke="#1c1c1c" stroke-width="0.15" aria-label="単位(mm)"><text x="0" font-size="13.4" textLength="62.52" lengthAdjust="spacingAndGlyphs">単位(mm)</text></g>
<g transform="translate(30.51 56.50) scale(1.0292 1)" fill="#1c1c1c" stroke="#1c1c1c" stroke-width="0.46" aria-label="PAO 1次側測定コック"><text x="0" font-size="10.6" textLength="101.72" lengthAdjust="spacingAndGlyphs">PAO 1次側測定コック</text></g>
<path d="M27 62.3 L136.25 62.3 L181 78.8" stroke="#1c1c1c" stroke-width="1.15" fill="none"/>
<g transform="translate(69.91 72.20) scale(1.0988 1)" fill="#1c1c1c" font-weight="bold" stroke="#1c1c1c" stroke-width="0.22" aria-label="(前面カバー内)"><text x="0" font-size="8.4" textLength="58.05" lengthAdjust="spacingAndGlyphs">(前面カバー内)</text></g>
<circle cx="181.6" cy="79.4" r="1.1" stroke="#1c1c1c" stroke-width="0.9" fill="none"/>
<g transform="translate(100.34 109.70) scale(1.0621 1)" fill="#1c1c1c" stroke="#1c1c1c" stroke-width="0.46" aria-label="送風機"><text x="0" font-size="10.6" textLength="31.8" lengthAdjust="spacingAndGlyphs">送風機</text></g>
<path d="M61.5 113 L136.25 113 L175.9 109.3" stroke="#1c1c1c" stroke-width="1.15" fill="none"/>
<g transform="translate(62.91 123.80) scale(1.0975 1)" fill="#1c1c1c" font-weight="bold" stroke="#1c1c1c" stroke-width="0.22" aria-label="(最大出力500W)"><text x="0" font-size="8.4" textLength="63.94" lengthAdjust="spacingAndGlyphs">(最大出力500W)</text></g>
<g transform="translate(65.23 176.70) scale(1.0068 1)" fill="#1c1c1c" stroke="#1c1c1c" stroke-width="0.46" aria-label="前面シャッター"><text x="0" font-size="10.6" textLength="68.58" lengthAdjust="spacingAndGlyphs">前面シャッター</text></g>
<path d="M60 180 L136.25 180 L213 223.75" stroke="#1c1c1c" stroke-width="1.15" fill="none"/>
<g transform="translate(73.46 189.80) scale(1.0478 1)" fill="#1c1c1c" font-weight="bold" stroke="#1c1c1c" stroke-width="0.22" aria-label="(強化ガラスt5)"><text x="0" font-size="8.4" textLength="56.86" lengthAdjust="spacingAndGlyphs">(強化ガラスt5)</text></g>
<g transform="translate(111.00 210.50) scale(1.0868 1)" fill="#1c1c1c" stroke="#1c1c1c" stroke-width="0.46" aria-label="取手"><text x="0" font-size="10.6" textLength="21.2" lengthAdjust="spacingAndGlyphs">取手</text></g>
<path d="M109.25 213.75 L136.25 213.75 L212.5 257.5" stroke="#1c1c1c" stroke-width="1.15" fill="none"/>
<g transform="translate(46.40 243.00) scale(0.9913 1)" fill="#1c1c1c" stroke="#1c1c1c" stroke-width="0.46" aria-label="防滴コンセント × 2"><text x="0" font-size="10.6" textLength="86.89" lengthAdjust="spacingAndGlyphs">防滴コンセント × 2</text></g>
<path d="M45 246.25 L136.25 246.25 L192.5 276.25" stroke="#1c1c1c" stroke-width="1.15" fill="none"/>
<g transform="translate(93.48 256.80) scale(1.0260 1)" fill="#1c1c1c" font-weight="bold" stroke="#1c1c1c" stroke-width="0.22" aria-label="(MAX5A)"><text x="0" font-size="8.4" textLength="37.8" lengthAdjust="spacingAndGlyphs">(MAX5A)</text></g>
<g transform="translate(68.99 288.70) scale(1.0049 1)" fill="#1c1c1c" stroke="#1c1c1c" stroke-width="0.46" aria-label="ドレーンコック"><text x="0" font-size="10.6" textLength="66.47" lengthAdjust="spacingAndGlyphs">ドレーンコック</text></g>
<path d="M66.25 292 L136.25 292 L187.5 324.5" stroke="#1c1c1c" stroke-width="1.15" fill="none"/>
<g transform="translate(99.80 304.30) scale(1.2091 1)" fill="#1c1c1c" font-weight="bold" stroke="#1c1c1c" stroke-width="0.22" aria-label="(3。W')"><text font-size="8.4"><tspan x="0.6">(3</tspan><tspan x="8.87">。</tspan><tspan x="13.91">W')</tspan></text></g>
<g transform="translate(63.94 325.00) scale(1.0120 1)" fill="#1c1c1c" stroke="#1c1c1c" stroke-width="0.46" aria-label="ガス供給コック"><text x="0" font-size="10.6" textLength="69.76" lengthAdjust="spacingAndGlyphs">ガス供給コック</text></g>
<path d="M62.5 328.25 L136.25 328.25 L173 346" stroke="#1c1c1c" stroke-width="1.15" fill="none"/>
<g transform="translate(58.34 348.00) scale(1.0674 1)" fill="#1c1c1c" stroke="#1c1c1c" stroke-width="0.46" aria-label="バキューム継手"><text x="0" font-size="10.6" textLength="70.91" lengthAdjust="spacingAndGlyphs">バキューム継手</text></g>
<path d="M56.25 351.75 L136.25 351.75 L173.75 374.5" stroke="#1c1c1c" stroke-width="1.15" fill="none"/>
<g transform="translate(99.73 362.40) scale(1.2749 1)" fill="#1c1c1c" font-weight="bold" stroke="#1c1c1c" stroke-width="0.22" aria-label="(φ10)"><text x="0" font-size="8.4" textLength="23.75" lengthAdjust="spacingAndGlyphs">(φ10)</text></g>
<g transform="translate(16.46 400.00) scale(0.9829 1)" fill="#1c1c1c" stroke="#1c1c1c" stroke-width="0.46" aria-label="フィルターメンテナンス蓋"><text x="0" font-size="10.6" textLength="119.57" lengthAdjust="spacingAndGlyphs">フィルターメンテナンス蓋</text></g>
<path d="M15 403 L136.25 403 L220 361.25" stroke="#1c1c1c" stroke-width="1.15" fill="none"/>
<g transform="translate(59.12 421.20) scale(1.0067 1)" fill="#1c1c1c" stroke="#1c1c1c" stroke-width="0.46" aria-label="PAO測定コック"><text x="0" font-size="10.6" textLength="71.68" lengthAdjust="spacingAndGlyphs">PAO測定コック</text></g>
<path d="M26.25 424.5 L136.25 424.5 L237 371.25" stroke="#1c1c1c" stroke-width="1.15" fill="none"/>
<g transform="translate(25.90 434.30) scale(1.1099 1)" fill="#1c1c1c" font-weight="bold" stroke="#1c1c1c" stroke-width="0.22" aria-label="(排気フィルター左:1次側)"><text x="0" font-size="8.4" textLength="96.59" lengthAdjust="spacingAndGlyphs">(排気フィルター左:1次側)</text></g>
<g transform="translate(444.86 43.20) scale(0.9813 1)" fill="#1c1c1c" stroke="#1c1c1c" stroke-width="0.46" aria-label="排気ダクトフランジ"><text x="0" font-size="10.6" textLength="88.94" lengthAdjust="spacingAndGlyphs">排気ダクトフランジ</text></g>
<path d="M535 45.6 L440 45.6 L405.75 61.25" stroke="#1c1c1c" stroke-width="1.15" fill="none"/>
<g transform="translate(443.42 55.80) scale(1.0850 1)" fill="#1c1c1c" font-weight="bold" stroke="#1c1c1c" stroke-width="0.22" aria-label="(取外し可、パッキン付)"><text x="0" font-size="8.4" textLength="85.85" lengthAdjust="spacingAndGlyphs">(取外し可、パッキン付)</text></g>
<g transform="translate(444.90 95.30) scale(1.0591 1)" fill="#1c1c1c" stroke="#1c1c1c" stroke-width="0.46" aria-label="操作パネル"><text x="0" font-size="10.6" textLength="52.26" lengthAdjust="spacingAndGlyphs">操作パネル</text></g>
<path d="M502.5 99.5 L440 99.5 L376.25 164.5" stroke="#1c1c1c" stroke-width="1.15" fill="none"/>
<g transform="translate(444.42 182.20) scale(1.0554 1)" fill="#1c1c1c" stroke="#1c1c1c" stroke-width="0.46" aria-label="ガスバーナー"><text x="0" font-size="10.6" textLength="61.48" lengthAdjust="spacingAndGlyphs">ガスバーナー</text></g>
<path d="M513.75 185.75 L440 185.75 L337.5 287.5" stroke="#1c1c1c" stroke-width="1.15" fill="none"/>
<g transform="translate(443.49 196.30) scale(1.0136 1)" fill="#1c1c1c" font-weight="bold" stroke="#1c1c1c" stroke-width="0.22" aria-label="(オプション)"><text x="0" font-size="8.4" textLength="46.87" lengthAdjust="spacingAndGlyphs">(オプション)</text></g>
<g transform="translate(444.61 219.30) scale(1.0274 1)" fill="#1c1c1c" stroke="#1c1c1c" stroke-width="0.46" aria-label="バキュームコック"><text x="0" font-size="10.6" textLength="77.81" lengthAdjust="spacingAndGlyphs">バキュームコック</text></g>
<path d="M530 223.25 L440 223.25 L378.75 263.75" stroke="#1c1c1c" stroke-width="1.15" fill="none"/>
<g transform="translate(444.44 247.20) scale(1.0282 1)" fill="#1c1c1c" stroke="#1c1c1c" stroke-width="0.46" aria-label="ガス継手"><text x="0" font-size="10.6" textLength="41.66" lengthAdjust="spacingAndGlyphs">ガス継手</text></g>
<path d="M488.75 251.25 L440 251.25 L396.25 265" stroke="#1c1c1c" stroke-width="1.15" fill="none"/>
<g transform="translate(444.12 298.70) scale(1.0067 1)" fill="#1c1c1c" stroke="#1c1c1c" stroke-width="0.46" aria-label="PAO測定コック"><text x="0" font-size="10.6" textLength="71.68" lengthAdjust="spacingAndGlyphs">PAO測定コック</text></g>
<path d="M548.75 301.25 L440 301.25 L288.75 343.75" stroke="#1c1c1c" stroke-width="1.15" fill="none"/>
<g transform="translate(444.40 311.80) scale(1.1046 1)" fill="#1c1c1c" font-weight="bold" stroke="#1c1c1c" stroke-width="0.22" aria-label="(排気フィルター左:2次側)"><text x="0" font-size="8.4" textLength="96.59" lengthAdjust="spacingAndGlyphs">(排気フィルター左:2次側)</text></g>
<g transform="translate(444.12 337.20) scale(1.0067 1)" fill="#1c1c1c" stroke="#1c1c1c" stroke-width="0.46" aria-label="PAO測定コック"><text x="0" font-size="10.6" textLength="71.68" lengthAdjust="spacingAndGlyphs">PAO測定コック</text></g>
<path d="M548.75 341.25 L440 341.25 L288.75 361.75" stroke="#1c1c1c" stroke-width="1.15" fill="none"/>
<g transform="translate(444.40 351.80) scale(1.1046 1)" fill="#1c1c1c" font-weight="bold" stroke="#1c1c1c" stroke-width="0.22" aria-label="(排気フィルター右:2次側)"><text x="0" font-size="8.4" textLength="96.59" lengthAdjust="spacingAndGlyphs">(排気フィルター右:2次側)</text></g>
<g transform="translate(444.12 375.50) scale(1.0067 1)" fill="#1c1c1c" stroke="#1c1c1c" stroke-width="0.46" aria-label="PAO測定コック"><text x="0" font-size="10.6" textLength="71.68" lengthAdjust="spacingAndGlyphs">PAO測定コック</text></g>
<path d="M551 380 L440 380 L340 370.75" stroke="#1c1c1c" stroke-width="1.15" fill="none"/>
<g transform="translate(444.39 390.80) scale(1.1151 1)" fill="#1c1c1c" font-weight="bold" stroke="#1c1c1c" stroke-width="0.22" aria-label="(排気フィルター右:1次側)"><text x="0" font-size="8.4" textLength="96.59" lengthAdjust="spacingAndGlyphs">(排気フィルター右:1次側)</text></g>
<g transform="translate(444.46 419.20) scale(0.9784 1)" fill="#1c1c1c" stroke="#1c1c1c" stroke-width="0.46" aria-label="フットスイッチ"><text x="0" font-size="10.6" textLength="64.87" lengthAdjust="spacingAndGlyphs">フットスイッチ</text></g>
<path d="M558.75 423 L440 423 L340 431.25" stroke="#1c1c1c" stroke-width="1.15" fill="none"/>
<g transform="translate(443.43 433.80) scale(1.0743 1)" fill="#1c1c1c" font-weight="bold" stroke="#1c1c1c" stroke-width="0.22" aria-label="(ガスバーナー用、オプション)"><text x="0" font-size="8.4" textLength="109.04" lengthAdjust="spacingAndGlyphs">(ガスバーナー用、オプション)</text></g>
<g transform="translate(848.31 45.00) scale(1.0403 1)" fill="#1c1c1c" stroke="#1c1c1c" stroke-width="0.46" aria-label="制御盤"><text x="0" font-size="10.6" textLength="31.8" lengthAdjust="spacingAndGlyphs">制御盤</text></g>
<path d="M886.25 48.25 L844.5 48.25 L723.75 116.25" stroke="#1c1c1c" stroke-width="1.15" fill="none"/>
<g transform="translate(848.31 74.70) scale(1.0458 1)" fill="#1c1c1c" stroke="#1c1c1c" stroke-width="0.46" aria-label="照明灯"><text x="0" font-size="10.6" textLength="31.8" lengthAdjust="spacingAndGlyphs">照明灯</text></g>
<path d="M887.5 78.25 L844.5 78.25 L716 185.2" stroke="#1c1c1c" stroke-width="1.15" fill="none"/>
<g transform="translate(848.39 108.70) scale(0.9940 1)" fill="#1c1c1c" stroke="#1c1c1c" stroke-width="0.46" aria-label="給気フィルター"><text x="0" font-size="10.6" textLength="70.06" lengthAdjust="spacingAndGlyphs">給気フィルター</text></g>
<path d="M922 113.25 L844.5 113.25 L779 168.4" stroke="#1c1c1c" stroke-width="1.15" fill="none"/>
<g transform="translate(848.07 144.20) scale(1.0492 1)" fill="#1c1c1c" stroke="#1c1c1c" stroke-width="0.46" aria-label="吹出パンチング板"><text x="0" font-size="10.6" textLength="82.48" lengthAdjust="spacingAndGlyphs">吹出パンチング板</text></g>
<path d="M936.5 148.25 L844.5 148.25 L781 195" stroke="#1c1c1c" stroke-width="1.15" fill="none"/>
<g transform="translate(847.57 157.50) scale(1.0339 1)" fill="#1c1c1c" font-weight="bold" stroke="#1c1c1c" stroke-width="0.22" aria-label="(SUS304,取外し可)"><text x="0" font-size="8.4" textLength="74.53" lengthAdjust="spacingAndGlyphs">(SUS304,取外し可)</text></g>
<g transform="translate(848.46 179.70) scale(1.0264 1)" fill="#1c1c1c" stroke="#1c1c1c" stroke-width="0.46" aria-label="殺菌灯 × 2"><text x="0" font-size="10.6" textLength="49.78" lengthAdjust="spacingAndGlyphs">殺菌灯 × 2</text></g>
<path d="M925 183 L844.5 183 L805 208.75" stroke="#1c1c1c" stroke-width="1.15" fill="none"/>
<g transform="translate(848.19 220.50) scale(1.0202 1)" fill="#1c1c1c" stroke="#1c1c1c" stroke-width="0.46" aria-label="アームレスト"><text x="0" font-size="10.6" textLength="57.35" lengthAdjust="spacingAndGlyphs">アームレスト</text></g>
<path d="M908.75 223.75 L844.5 223.75 L705 296.25" stroke="#1c1c1c" stroke-width="1.15" fill="none"/>
<g transform="translate(847.51 233.20) scale(1.0957 1)" fill="#1c1c1c" font-weight="bold" stroke="#1c1c1c" stroke-width="0.22" aria-label="(取外し可)"><text x="0" font-size="8.4" textLength="40.91" lengthAdjust="spacingAndGlyphs">(取外し可)</text></g>
<g transform="translate(848.08 256.20) scale(1.0491 1)" fill="#1c1c1c" stroke="#1c1c1c" stroke-width="0.46" aria-label="吸込パンチング板"><text x="0" font-size="10.6" textLength="82.48" lengthAdjust="spacingAndGlyphs">吸込パンチング板</text></g>
<path d="M936.5 259.5 L844.5 259.5 L720.5 303.5" stroke="#1c1c1c" stroke-width="1.15" fill="none"/>
<g transform="translate(848.45 281.20) scale(1.0206 1)" fill="#1c1c1c" stroke="#1c1c1c" stroke-width="0.46" aria-label="作業台"><text x="0" font-size="10.6" textLength="31.8" lengthAdjust="spacingAndGlyphs">作業台</text></g>
<path d="M929 284.5 L844.5 284.5 L801 302.8" stroke="#1c1c1c" stroke-width="1.15" fill="none"/>
<g transform="translate(847.57 295.00) scale(1.0339 1)" fill="#1c1c1c" font-weight="bold" stroke="#1c1c1c" stroke-width="0.22" aria-label="(SUS304,取外し可)"><text x="0" font-size="8.4" textLength="74.53" lengthAdjust="spacingAndGlyphs">(SUS304,取外し可)</text></g>
<g transform="translate(848.42 316.70) scale(1.0167 1)" fill="#1c1c1c" stroke="#1c1c1c" stroke-width="0.46" aria-label="漏電ブレーカー(右側面)"><text x="0" font-size="10.6" textLength="113.95" lengthAdjust="spacingAndGlyphs">漏電ブレーカー(右側面)</text></g>
<path d="M970.5 320.5 L844.5 320.5 L724.5 347.5" stroke="#1c1c1c" stroke-width="1.15" fill="none"/>
<g transform="translate(847.57 330.00) scale(1.0399 1)" fill="#1c1c1c" font-weight="bold" stroke="#1c1c1c" stroke-width="0.22" aria-label="(主回路10A)"><text x="0" font-size="8.4" textLength="49.01" lengthAdjust="spacingAndGlyphs">(主回路10A)</text></g>
<g transform="translate(848.31 350.00) scale(1.0083 1)" fill="#1c1c1c" stroke="#1c1c1c" stroke-width="0.46" aria-label="ノーヒューズブレーカー(右側面)"><text x="0" font-size="10.6" textLength="150.94" lengthAdjust="spacingAndGlyphs">ノーヒューズブレーカー(右側面)</text></g>
<path d="M1000.5 353.25 L728.75 353.25" stroke="#1c1c1c" stroke-width="1.15" fill="none"/>
<g transform="translate(847.59 363.30) scale(1.0172 1)" fill="#1c1c1c" font-weight="bold" stroke="#1c1c1c" stroke-width="0.22" aria-label="(コンセント, 5A)"><text x="0" font-size="8.4" textLength="61.61" lengthAdjust="spacingAndGlyphs">(コンセント, 5A)</text></g>
<g transform="translate(848.46 381.20)" fill="#1c1c1c" stroke="#1c1c1c" stroke-width="0.46" aria-label="排気フィルター"><text x="0" font-size="10.6" textLength="70.06" lengthAdjust="spacingAndGlyphs">排気フィルター</text></g>
<path d="M922.5 384.5 L844.5 384.5 L806.25 370" stroke="#1c1c1c" stroke-width="1.15" fill="none"/>
<g transform="translate(848.14 423.70) scale(1.0106 1)" fill="#1c1c1c" stroke="#1c1c1c" stroke-width="0.46" aria-label="電源コード"><text x="0" font-size="10.6" textLength="49.92" lengthAdjust="spacingAndGlyphs">電源コード</text></g>
<path d="M946 427.5 L844.5 427.5 L836.25 405" stroke="#1c1c1c" stroke-width="1.15" fill="none"/>
<g transform="translate(847.57 437.50) scale(1.0421 1)" fill="#1c1c1c" font-weight="bold" stroke="#1c1c1c" stroke-width="0.22" aria-label="(2PEプラグ付, 機外3m)"><text x="0" font-size="8.4" textLength="90.65" lengthAdjust="spacingAndGlyphs">(2PEプラグ付, 機外3m)</text></g>
<g transform="translate(849.99 452.40) scale(1.0042 1)" fill="#1c1c1c" stroke="#1c1c1c" stroke-width="0.46" aria-label="アジャスター × 4"><text x="0" font-size="10.6" textLength="76.5" lengthAdjust="spacingAndGlyphs">アジャスター × 4</text></g>
<path d="M929.5 455.5 L844.5 455.5 L822.5 425" stroke="#1c1c1c" stroke-width="1.15" fill="none"/>
<g transform="translate(851.42 465.80) scale(1.0902 1)" fill="#1c1c1c" font-weight="bold" stroke="#1c1c1c" stroke-width="0.22" aria-label="(L=200mm)"><text x="0" font-size="8.4" textLength="47.39" lengthAdjust="spacingAndGlyphs">(L=200mm)</text></g>
</svg>
</body></html>
